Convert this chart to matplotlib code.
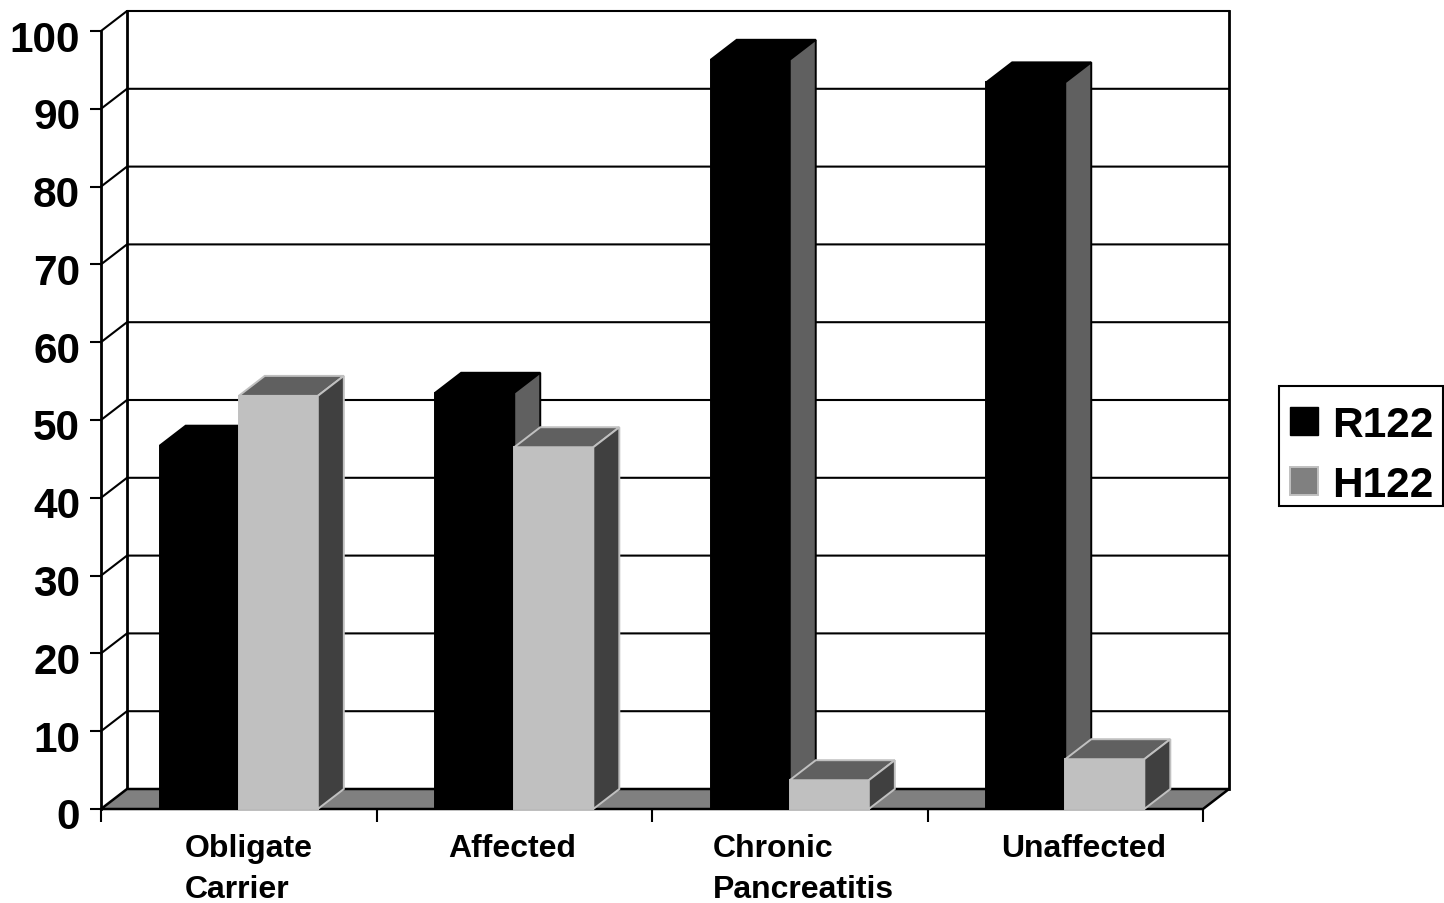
import matplotlib
matplotlib.use('Agg')
import matplotlib.pyplot as plt
from matplotlib.patches import Polygon, Patch, Rectangle
from matplotlib.transforms import ScaledTranslation

categories = ['Obligate\nCarrier', 'Affected', 'Chronic\nPancreatitis', 'Unaffected']
r122 = [46.7, 53.5, 96.3, 93.4]
h122 = [53.1, 46.5, 3.7, 6.4]
y_ticks = list(range(0, 101, 10))

# label blocks are not centred on the groups in the original
label_x = [0.538, 1.493, 2.550, 3.565]

# 3d look: depth of the box in data units (26px, 20px on the figure)
DX = 26 / 275.5
DY = 20 / 7.78
BAR_W = 0.287

plt.rcParams['font.family'] = ['Liberation Sans', 'DejaVu Sans']
plt.rcParams['font.weight'] = 'bold'

fig = plt.figure(figsize=(14.44, 9.04), dpi=100)
ax = fig.add_axes([101 / 1444, 94 / 904, 1102 / 1444, 778 / 904])
ax.set_xlim(0, 4)
ax.set_ylim(0, 100)
for s in ax.spines.values():
    s.set_visible(False)
ax.patch.set_visible(False)


def poly(pts, fc, ec, lw=1.4, z=2):
    ax.add_patch(Polygon(pts, closed=True, fc=fc, ec=ec, lw=lw, zorder=z,
                         clip_on=False, joinstyle='miter'))


def line(xs, ys, lw=1.5, z=1):
    ax.plot(xs, ys, color='black', lw=lw, zorder=z, clip_on=False,
            solid_capstyle='projecting')


### 1. walls and gridlines
for v in y_ticks[1:]:
    line([0, DX, 4 + DX], [v, v + DY, v + DY])
line([0, 0], [0, 100], lw=2)
line([DX, DX], [DY, 100 + DY], lw=2)
line([4 + DX, 4 + DX], [DY, 100 + DY], lw=2)

### 2. floor
poly([(0, 0), (4, 0), (4 + DX, DY), (DX, DY)], '#808080', 'black', lw=1.8)


### 3. bars, back to front
def box(x0, val, front, top, side, edge):
    ax.bar(x0, val, BAR_W, align='edge', color=front, edgecolor=edge, lw=1.4,
           zorder=3, clip_on=False)
    x1 = x0 + BAR_W
    poly([(x0, val), (x1, val), (x1 + DX, val + DY), (x0 + DX, val + DY)],
         top, edge, z=3)
    poly([(x1, 0), (x1 + DX, DY), (x1 + DX, val + DY), (x1, val)],
         side, edge, z=3)


for i in range(len(categories)):
    c = i + 0.5
    box(c - BAR_W, r122[i], 'black', 'black', '#606060', 'black')
    box(c, h122[i], '#c0c0c0', '#606060', '#404040', '#c0c0c0')

### 4. axes text
ax.set_xticks(range(5))
ax.set_xticklabels([])
ax.set_yticks(y_ticks)
ax.tick_params(axis='x', length=9.4, width=1.5)
ax.tick_params(axis='y', length=8, width=1.5, pad=7, labelsize=30.5)
for lab in ax.get_yticklabels():
    lab.set_transform(lab.get_transform() + ScaledTranslation(0, -4 / 100, fig.dpi_scale_trans))

for x, name in zip(label_x, categories):
    ax.annotate(name, (x, 0), xytext=(0, -17.5), textcoords='offset points',
                ha='center', va='top', multialignment='left', fontsize=23,
                fontweight='bold', linespacing=1.45, annotation_clip=False)

### 5. legend, frame drawn apart so the entries sit low in it like the original
handles = [Patch(fc='black', ec='black', label='R122'),
           Patch(fc='#808080', ec='#c0c0c0', lw=1.4, label='H122')]
ax.legend(handles=handles, loc='center', bbox_to_anchor=(1362 / 1444, 448 / 904),
          bbox_transform=fig.transFigure, fontsize=30.5, frameon=False,
          handlelength=0.65, handleheight=0.65, handletextpad=0.33, labelspacing=0.47,
          borderpad=0.28, borderaxespad=0)
fig.add_artist(Rectangle((1279 / 1444, 397 / 904), 164 / 1444, 120 / 904, fill=False,
                         ec='black', lw=1.5, transform=fig.transFigure, zorder=-1))

fig.savefig('out.png', dpi=100)
